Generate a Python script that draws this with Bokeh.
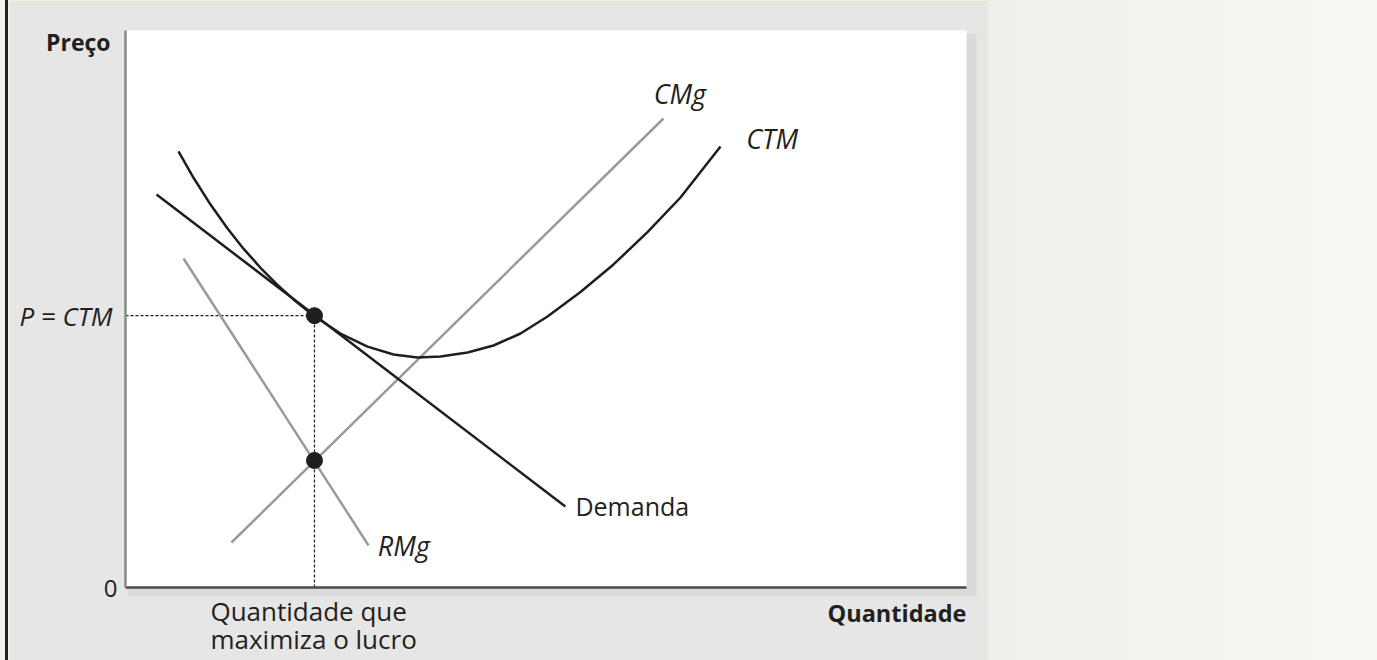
from bokeh.plotting import figure
from bokeh.models import Div, FixedTicker, Label, Range1d, LinearAxis
from bokeh.layouts import row
from bokeh.embed import file_html
from bokeh.resources import INLINE

# ---- data (arbitrary units, 0..100 on both axes) ----
demand_x = [3.69, 52.3]
demand_y = [70.56, 14.54]
rmg_x = [6.9, 28.9]
rmg_y = [59.07, 7.54]
cmg_x = [12.6, 63.97]
cmg_y = [8.08, 84.2]
ctm_x = [6.30, 8.09, 10.11, 12.13, 14.03, 16.05, 18.07, 19.98, 22.35, 25.56, 28.78, 31.87,
         34.72, 37.46, 40.67, 43.76, 46.97, 50.18, 54.10, 58.03, 62.07, 65.99, 70.75]
ctm_y = [78.28, 73.56, 68.75, 64.45, 60.83, 57.40, 54.33, 51.72, 48.83, 45.60, 43.25, 41.83,
         41.29, 41.47, 42.19, 43.45, 45.60, 48.65, 53.05, 58.00, 63.80, 70.02, 79.17]
q_star = 22.47
p_star = 48.8
mc_at_q = 22.8
pts_x = [q_star, q_star]
pts_y = [p_star, mc_at_q]
y_tick_label = "P = CTM"
x_label_lines = ["Quantidade que", "maximiza o lucro"]
x_max = 100
y_max = 100

FONT = "Open Sans"
TXT = "#231f20"
BLACK = "#1e1e1e"
GRAY = "#9a9a9a"

W, H = 980, 660
XL, XR = -13.912, 102.616
YB, YT = -13.106, 105.386
p = figure(width=W, height=H, output_backend="svg", toolbar_location=None,
           x_range=Range1d(XL, XR), y_range=Range1d(YB, YT),
           min_border_left=0, min_border_right=0, min_border_top=0, min_border_bottom=0,
           background_fill_color="#e6e6e6", border_fill_color="#e6e6e6",
           outline_line_color=None)
p.grid.visible = False
p.axis.visible = False

# panel decoration: top band, shadow, white plotting area
p.quad(left=XL, right=XR, bottom=104.13, top=YT, color="#e5e7d8", line_color=None)
p.quad(left=0.3, right=1.2 + x_max, bottom=-1.6, top=y_max - 0.6, color="#dadada", line_color=None)
p.quad(left=0, right=x_max, bottom=0, top=y_max, color="white", line_color=None)

# axes (drawn at the data origin)
yax = LinearAxis(fixed_location=0, bounds=(0, y_max), ticker=FixedTicker(ticks=[p_star]),
                 major_label_overrides={p_star: y_tick_label})
yax.axis_line_color = "#8a8a8a"
yax.axis_line_width = 2.5
yax.major_tick_line_color = None
yax.minor_tick_line_color = None
yax.major_label_standoff = 7
yax.major_label_text_font = FONT
yax.major_label_text_font_style = "italic"
yax.major_label_text_font_size = "26px"
yax.major_label_text_color = TXT
p.add_layout(yax, "left")

xax = LinearAxis(fixed_location=0, bounds=(0, x_max), ticker=FixedTicker(ticks=[]))
xax.axis_line_color = "#4a4a4a"
xax.axis_line_width = 2.5
xax.major_tick_line_color = None
xax.minor_tick_line_color = None
p.add_layout(xax, "below")

# guide lines
p.line([0, q_star], [p_star, p_star], line_color=BLACK, line_width=1.2, line_dash="3 2")
p.line([q_star, q_star], [0, p_star], line_color=BLACK, line_width=1.2, line_dash="3 2")

# curves
p.line(rmg_x, rmg_y, line_color=GRAY, line_width=2.5)
p.line(cmg_x, cmg_y, line_color=GRAY, line_width=2.5)
p.line(demand_x, demand_y, line_color=BLACK, line_width=2.5)
p.line(ctm_x, ctm_y, line_color=BLACK, line_width=2.5, line_join="round")
p.scatter(pts_x, pts_y, size=16, color=BLACK)

def lab(x, y, t, align="left", style="normal", size="26px"):
    p.add_layout(Label(x=x, y=y, text=t, text_align=align, text_baseline="middle",
                       text_font=FONT, text_font_style=style, text_font_size=size,
                       text_color=TXT))

lab(62.8, 88.7, "CMg", style="italic", size="27px")
lab(73.8, 80.6, "CTM", style="italic", size="27px")
lab(53.5, 14.7, "Demanda", size="25px")
lab(30.0, 7.5, "RMg", style="italic", size="27px")
lab(-1.78, 97.85, "Preço", align="right", style="bold", size="23px")
lab(x_max, -4.49, "Quantidade", align="right", style="bold", size="23.5px")
lab(-2.6, -0.18, "0", size="24px")
lab(10.1, -4.13, x_label_lines[0], size="26px")
lab(10.1, -9.16, x_label_lines[1], size="26px")

edge = Div(width=8, height=H, margin=0,
           styles={"background": "linear-gradient(to right, #f2f2ee 0px, #f2f2ee 5px, #222222 5px, #222222 8px)"})
side = Div(width=389, height=H, margin=0,
           styles={"background": "linear-gradient(to right, #f0f0ea, #f7f7f3)"})
layout = row(edge, p, side)

open("out.html", "w").write(file_html(layout, INLINE))
